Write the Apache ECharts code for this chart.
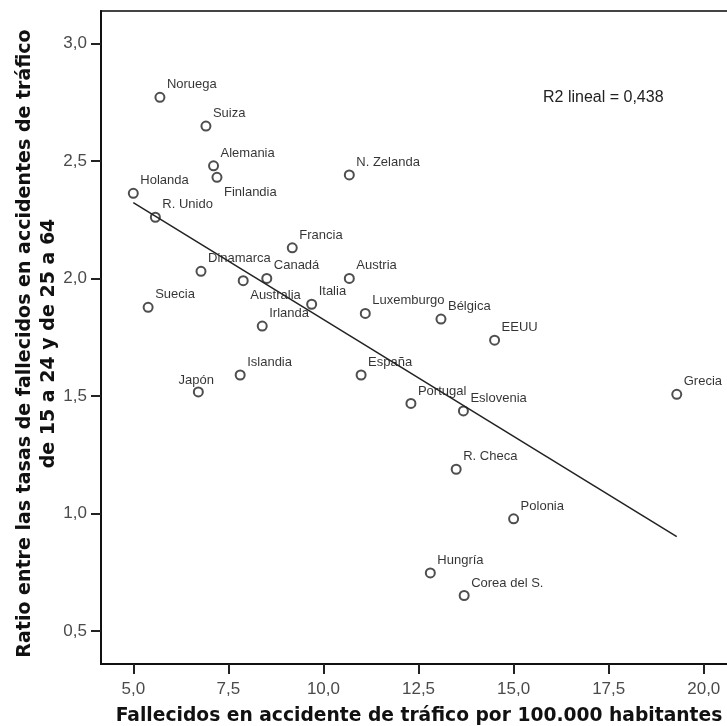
<!DOCTYPE html>
<html>
<head>
<meta charset="utf-8">
<script src="https://cdn.jsdelivr.net/npm/echarts@6.0.0/dist/echarts.min.js"></script>
<style>
  html, body { margin: 0; padding: 0; background: #fff; overflow: hidden; }
  #chart { width: 727px; height: 726px; }
</style>
</head>
<body>
<div id="chart"></div>
<script>
// paises y valores
const countries = ['Noruega', 'Suiza', 'Alemania', 'Finlandia', 'Holanda', 'R. Unido', 'N. Zelanda',
  'Francia', 'Dinamarca', 'Canadá', 'Australia', 'Irlanda', 'Italia', 'Austria', 'Luxemburgo',
  'Bélgica', 'EEUU', 'España', 'Portugal', 'Eslovenia', 'R. Checa', 'Grecia', 'Suecia', 'Japón',
  'Islandia', 'Polonia', 'Hungría', 'Corea del S.']
const deaths = [5.70, 6.91, 7.11, 7.20, 5.00, 5.58, 10.68, 9.18, 6.78, 8.51, 7.89, 8.39, 9.69, 10.68,
  11.10, 13.09, 14.50, 10.99, 12.30, 13.68, 13.49, 19.29, 5.39, 6.71, 7.81, 15.00, 12.81, 13.70]
const ratio = [2.77, 2.648, 2.479, 2.43, 2.362, 2.26, 2.44, 2.13, 2.03, 2.00, 1.99, 1.797, 1.89, 2.00,
  1.851, 1.827, 1.737, 1.589, 1.468, 1.436, 1.188, 1.507, 1.877, 1.517, 1.589, 0.977, 0.747, 0.651]
const xTicks = [5, 7.5, 10, 12.5, 15, 17.5, 20]
const yTicks = [0.5, 1.0, 1.5, 2.0, 2.5, 3.0]
const r2Text = 'R2 lineal = 0,438'

// etiquetas que van debajo o centradas
const labelBelow = ['Finlandia', 'Australia']
const labelCenter = ['Japón']

// recta de regresion por minimos cuadrados
const fitLine = () => {
    const n = deaths.length
    const mx = deaths.reduce((a, b) => a + b, 0) / n
    const my = ratio.reduce((a, b) => a + b, 0) / n
    let sxy = 0, sxx = 0
    deaths.forEach((x, i) => {
        sxy += (x - mx) * (ratio[i] - my)
        sxx += (x - mx) * (x - mx)
    })
    const b = sxy / sxx
    const a = my - b * mx
    const x0 = Math.min(...deaths)
    const x1 = Math.max(...deaths)
    return [[x0, a + b * x0], [x1, a + b * x1]]
}

const fmt = v => Number(v).toFixed(1).replace('.', ',')

const points = countries.map((name, i) => {
    let label = { position: [12.5, -7], align: 'left' }
    if (labelBelow.includes(name)) label = { position: [12.5, 20.5], align: 'left' }
    if (labelCenter.includes(name)) label = { position: [3.5, -5.5], align: 'center' }
    return { name, value: [deaths[i], ratio[i]], label }
})

const titleFont = { fontWeight: 'bold', color: '#111', fontFamily: 'DejaVu Sans' }

const option = {
    backgroundColor: '#fff',
    animation: false,
    textStyle: { fontFamily: 'Liberation Sans, Arial, sans-serif' },
    title: {
        text: r2Text,
        left: 543,
        top: 90,
        padding: 0,
        textStyle: { fontSize: 16, fontWeight: 'normal', color: '#222', fontFamily: 'Liberation Sans' }
    },
    grid: {
        left: 101,
        top: 11,
        right: -10,
        bottom: 62,
        containLabel: false,
        outerBoundsMode: 'none',
        show: true,
        borderColor: '#444',
        borderWidth: 2,
        backgroundColor: 'transparent'
    },
    xAxis: {
        type: 'value',
        min: 4.1507,
        max: 20.874,
        name: 'Fallecidos en accidente de tráfico por 100.000 habitantes',
        nameLocation: 'middle',
        nameGap: 43,
        nameMoveOverlap: false,
        nameTextStyle: Object.assign({ fontSize: 18.7 }, titleFont),
        axisLine: { show: true, lineStyle: { color: '#111', width: 2 } },
        axisTick: { show: true, length: 10, customValues: xTicks, lineStyle: { color: '#222', width: 2 } },
        axisLabel: {
            customValues: xTicks,
            formatter: fmt,
            margin: 17,
            fontSize: 17,
            color: '#4a4a4a',
            fontFamily: 'Liberation Sans'
        },
        splitLine: { show: false }
    },
    yAxis: {
        type: 'value',
        min: 0.3596,
        max: 3.1374,
        name: 'Ratio entre las tasas de fallecidos en accidentes de tráfico\nde 15 a 24 y de 25 a 64',
        nameLocation: 'middle',
        nameGap: 40,
        nameMoveOverlap: false,
        nameTextStyle: Object.assign({ fontSize: 19, lineHeight: 24, padding: [0, 12, 0, 0] }, titleFont),
        axisLine: { show: true, lineStyle: { color: '#111', width: 2 } },
        axisTick: { show: true, length: 10, customValues: yTicks, lineStyle: { color: '#222', width: 2 } },
        axisLabel: {
            customValues: yTicks,
            formatter: fmt,
            margin: 14,
            fontSize: 17,
            color: '#4a4a4a',
            fontFamily: 'Liberation Sans'
        },
        splitLine: { show: false }
    },
    series: [{
        type: 'scatter',
        symbol: 'circle',
        symbolSize: 9,
        itemStyle: { color: '#fff', borderColor: '#222', borderWidth: 2 },
        label: {
            show: true,
            formatter: p => p.name,
            verticalAlign: 'middle',
            fontSize: 13,
            color: '#000',
            fontFamily: 'Liberation Sans'
        },
        data: points,
        z: 3
    }, {
        type: 'line',
        data: fitLine(),
        showSymbol: false,
        lineStyle: { color: '#222', width: 1.5 },
        silent: true,
        z: 4
    }]
}

const chart = echarts.init(document.getElementById('chart'))
chart.setOption(option)
window.onresize = () => chart.resize()
</script>
</body>
</html>
